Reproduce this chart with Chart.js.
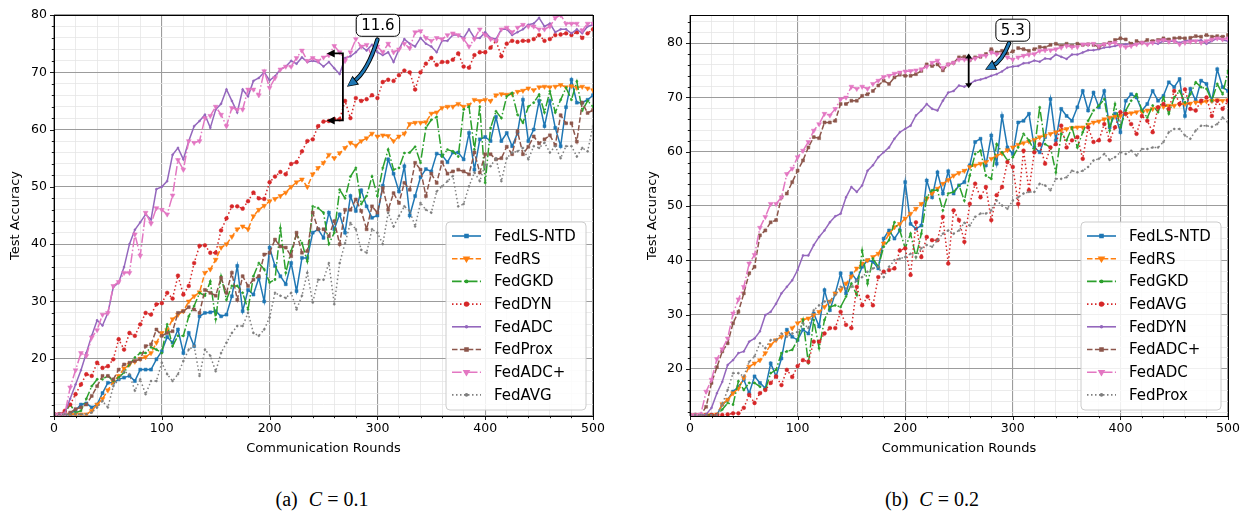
<!DOCTYPE html>
<html>
<head>
<meta charset="utf-8">
<script src="https://cdn.jsdelivr.net/npm/chart.js@4.4.0/dist/chart.umd.min.js"></script>
<style>
  body { margin: 0; background: #fff; width: 1245px; height: 513px; position: relative; overflow: hidden; }
  canvas { position: absolute; top: 0; }
  #chartA { left: 0; }
  #chartB { left: 630px; }
  .cap { position: absolute; top: 488px; font-family: "Liberation Serif", "DejaVu Serif", serif; font-size: 20px;
         color: #000; white-space: nowrap; transform: translateX(-50%); }
  .cap i { font-style: italic; margin-left: 6px; }
</style>
</head>
<body>
<canvas id="chartA" width="620" height="470"></canvas>
<canvas id="chartB" width="615" height="470"></canvas>
<div class="cap" style="left:322px">(a) <i>C</i> = 0.1</div>
<div class="cap" style="left:932px">(b) <i>C</i> = 0.2</div>
<script>
// rounds 0..500, one point every 5 rounds
const rounds = Array.from({ length: 101 }, (_, i) => i * 5);

const namesA = ["FedLS-NTD", "FedRS", "FedGKD", "FedDYN", "FedADC", "FedProx", "FedADC+", "FedAVG"];
const namesB = ["FedLS-NTD", "FedRS", "FedGKD", "FedAVG", "FedDYN", "FedADC+", "FedADC", "FedProx"];

const xTickLabels = [0, 100, 200, 300, 400, 500];
const yTickLabels = [20, 30, 40, 50, 60, 70, 80];

// ---- (a) C = 0.1 ----
const aLsNtd = [10.3,10.3,10.3,10.3,11,12,12.2,11.5,12,14,
  15.8,15.8,16.4,16.7,17,16.1,18.1,18.1,18.1,19.9,
  21.3,23.8,22.8,25.1,21,24.5,22.2,27.4,28,28.1,
  28.3,27.4,27.7,30.9,36.2,28.3,32,31.2,34.1,30,
  39.4,36.2,34.4,33,36.7,31.8,37.6,37.6,42,42.6,
  41.1,45.5,42.6,45.2,42,48.4,45.8,49.4,46.6,44.6,
  45,50.2,54.8,52.3,49.2,53.6,45,48.4,51.7,53.1,
  52.7,55.8,55.5,54.3,56,56,54.8,59.4,53,58.3,
  58.7,58,62.2,58,59.4,57.1,59.4,65.2,58,60,
  65,60.6,65,60.3,57.1,63.9,68.7,64.7,64.7,65.2,
  66];
const aRs = [10.3,10.3,10.3,10.3,10.3,10.3,10.3,10.9,12,13,
  14.5,16,17,18.3,19,19.5,20,20.3,21,22.8,
  24.5,25,26.9,27.7,28.3,30,30.9,31.6,35,35.6,
  37.3,39.4,40,41.3,42.6,43.1,42.6,44.9,46,46.7,
  47.5,47.9,48.4,49,50,50.8,51.3,50,52.2,53.3,
  54.2,55.6,55,55.9,56.8,57.7,57.2,58,58.5,59.3,
  58.8,59,58.9,58,58.8,59.3,61,61.2,61.2,61.3,
  62.8,63,63.8,64,64,64.5,64,64.3,65.2,65,
  65.2,65,66,66.2,66.1,66.2,66.6,66.8,67.2,66.9,
  67.4,67.5,67.4,67.5,67.8,67.4,67.6,67.3,67.5,67.2,
  66.9];
const aGkd = [10.3,10.3,10.5,12,10.6,10.9,13,15.2,16.4,16.4,
  17,16.1,16.7,17.6,19,20.2,21,21,22,21.6,
  21,26,22.2,24,24,27.4,29.2,31.5,31,33.5,
  26.9,34.4,30.3,32.7,32.7,31.5,28.6,34.4,36.7,35.6,
  33.3,33.8,42.8,35,38.8,41.7,40.2,37,46.6,46.3,
  45.5,40,42,49.5,48,51.8,53.3,47,48.4,51.8,
  48.4,53.3,56.5,53,53.3,55.9,56,57,54.2,60.3,
  61.7,62.2,55.3,56.5,56.2,55.3,63.5,64,56.5,64,
  50.7,60.3,63.2,62,65.8,66.4,62.6,61.2,64,64.7,
  66.1,63,66.7,63,65.2,67.3,65.2,68.4,63.3,65,
  64];
const aDyn = [10.3,10.3,10.9,12,13.8,15.5,17.3,17,19.3,18.4,
  18.7,19.9,23.4,21.6,24.5,24,26,28,27.7,29.5,
  29.7,31.5,30.5,34.5,31.2,32.7,36.7,39.7,39.8,38.5,
  38.5,42.4,44.5,46.6,46.6,46.2,47.5,49,48,47.9,
  50.8,51.8,52.6,52.2,54,54.3,56.2,58,58.3,60.6,
  61.4,61.5,61.8,61.8,65,62,65.5,65,65.3,66,
  65.5,68.3,68.7,68.5,69.5,70.3,70,67,70,71.5,
  72.5,71.3,71.8,71.8,72.2,73.3,71,70.8,73,73.5,
  73.5,74.3,75.5,72.8,75,75.5,75.3,75.5,75.5,75.8,
  76.5,75.5,75.8,76.5,76.6,76.8,76.5,77,76,76.8,
  77.5];
const aAdc = [10.3,10.3,10.5,13,15.5,18,21,24,26.7,25.8,
  28,32.5,33.3,36,40,42.5,43.8,45.2,44.3,49.6,
  50,51,55.6,56.8,54.8,58,60.6,61.5,62.6,60.3,
  63.5,64.5,67,65,63,67,65.8,68.5,69,70,
  68.6,69.3,70.5,71,72,71.5,72.6,71.8,72,71.8,
  71,71.8,70.7,69.7,72.5,72.8,73.5,74.5,73.8,74.8,
  73.5,73,73.5,71.8,74,75.8,75,74.5,76,75,
  74.5,73.5,75.5,75.5,76.5,76.5,76,77.5,76,76,
  77,76,75.8,77.5,77.5,76.5,77,77.5,78.3,78.5,
  79.5,78,78.5,77,77.5,77.5,76.8,77.5,76.8,78,
  78.3];
const aProx = [10.3,10.3,10.3,10.6,11.2,11.5,12,13.5,15.2,17,
  17,16.4,18.1,19,19.3,19.6,19.9,22.2,22.5,25.1,
  24,24.5,24.8,28,28.3,29,28.6,28,32,31.5,
  31,34.1,31.5,35,30.3,34.4,32.7,33.8,34.4,38.2,
  38.5,40.8,39.6,39.4,37.9,42,38.5,38.8,45.5,42.6,
  42.6,41.4,44,40,46,46,47.8,45.8,42.6,46.6,
  45.5,49.8,46,48.9,47.2,50.7,49.5,54.2,53,48.4,
  52.3,50.7,54.3,52.3,52.7,53,52.7,52.2,56,52.5,
  55.7,55.7,54.8,55,57,55.7,59.7,55.7,57,58.8,
  57.6,58.3,59,57.3,62.5,61.1,61.1,57.9,64.7,62.9,
  63.4];
const aAdcPlus = [10.3,10.3,10.3,15,18,21,20.5,23.7,25,27.7,
  28,32.7,33.4,35,35,41.7,38,45.5,43.6,46.3,
  46,45.2,48.5,54.7,53,58,57.7,58,62,62.4,
  64,62.6,60.6,63.8,63.5,63.5,67,67,66,70.2,
  67.3,69,70.5,71,71,72.5,73.8,72,72.5,72,
  72.6,73,74.6,73.5,72,73.5,75.8,74.5,74.8,72.8,
  74.5,73.5,75,73.5,74,75,74.2,77,77.2,76,
  75.5,76,75.8,76.5,76.8,76.5,75.8,74.5,75.8,77.5,
  76.5,75.8,75.5,77.5,77.8,77,77.8,78.3,78,78,
  77.5,77.5,78,79.5,80,78.5,78.5,78.5,77.3,78.5,
  78.5];
const aAvg = [10.3,10.3,10.3,10.3,10.3,10.3,10.3,10.6,11.5,12.6,
  11.5,15.2,16.4,17.8,17.3,14.4,16.4,13.8,16.1,16.1,
  19.3,17.3,16.1,17.3,19.6,21.6,22.2,17,21.6,20.5,
  17.8,21,22.8,24.5,25.7,25.7,28,24.5,24,25.1,
  27.2,31.5,31,30.6,31.5,28.6,31,35,29.8,33.8,
  33.8,36.7,29.5,36.7,40.2,43.7,42.6,39,38.5,42.6,
  42,40,45.5,43.1,44.9,46.6,45.8,43.1,47.2,46,
  45.5,49.2,50.1,51,51.9,46.6,47,50.1,52.5,51,
  53.9,53.6,55,51,55,56,56.2,56.8,54.8,57.1,
  56.8,57.7,56,57.1,55,57.1,57.1,55.3,56.8,56.2,
  60.6];

// ---- (b) C = 0.2 ----
const bLsNtd = [11.5,11.5,11.5,11.5,11.5,11.5,13.4,14.3,15.8,16.7,
  18,15.5,18.6,17.4,16.4,21,18.6,21.9,27.2,25.9,
  25.3,27.2,26.5,30.2,27.8,34.5,30.8,33.9,37.6,33.9,
  37.6,36.3,38.8,40,39.7,38.5,44,45.5,44,45.5,
  54.4,46.7,45.8,46.4,54.7,51.6,56.2,52.3,56.4,52.3,
  53.8,54.4,57.5,61.8,62.4,57.5,63,57.8,66.6,60.8,
  59.6,65.4,65.7,67,60.8,59.9,62.7,69.7,62.1,67.9,
  66.6,65.7,68.2,71.2,67.6,70.9,68.2,71.2,64.5,67,
  63.6,69.4,70.6,70,67.6,68.8,71.2,69.4,70.3,72.8,
  71.9,73.4,66.6,71.6,69.4,73.1,72.5,69.4,75.2,71.9,
  71.2];
const bRs = [11.5,11.5,11.5,11.5,11.5,11.6,13.5,14.3,15.5,16.4,
  18.3,20.4,21,21.6,22.9,24.4,25.3,25.9,26.5,27.5,
  28.4,29,29.3,29.9,30.5,31.4,32.4,33.9,34.5,35.7,
  37,38.5,39.4,40,40.6,41.2,43.1,44.9,46.1,46.7,
  47.7,48.6,49.5,50.4,51.3,52.3,53.2,54.1,54.8,55.6,
  56.1,56.5,57.2,57.5,57.8,58.1,58.7,59.3,59.7,60.3,
  60.8,61.3,61.6,61.9,62.2,62.7,63,63.3,63.6,64,
  64.2,64.4,64.5,64.5,65,65.4,65.6,66,66.3,66.5,
  66.6,67,67.1,67.3,67.4,67.6,67.9,68.1,68.3,68.5,
  68.5,68.7,68.8,68.9,69.1,69.1,69.3,69.4,69.5,69.4,
  69.5];
const bGkd = [11.5,11.5,11.5,11.5,11.5,11.5,12.5,13.7,13.4,17.7,
  16.1,17.4,17.4,16.7,16.1,19.2,19.8,22.9,23.2,23.5,
  25.3,29,21,29,23.8,29,31.4,31.7,31.4,33.3,
  35.7,33.6,41.8,35.7,40.3,38.8,42.5,43.7,47,45.5,
  42.2,44.9,40.6,44.9,51.6,52.9,52.9,49.2,52.3,52.6,
  53.8,51,55.6,59.6,60.2,55.6,55,61.4,59.9,58.4,
  59,60.8,63.3,62.1,60.2,68.2,61.4,60.8,56.2,63.3,
  62.1,64.5,60.8,63.6,65.7,67.6,68.5,69.7,63.9,68.8,
  64.5,67.6,69.4,70.6,67.6,66.3,68.5,67.3,70,67,
  70,71.2,69.1,70.6,72.8,71.9,71.6,69.4,72.5,70.6,
  74.9];
const bAvg = [11.5,11.5,11.5,11.5,11.5,11.5,11.5,11.6,11.8,11.8,
  12.8,15.2,13.7,15.5,16.1,17.4,18.6,17,19.8,18.5,
  20.5,21.6,21.3,25,25,26.5,27.5,27.5,30.5,28.1,
  27.5,35.1,31.7,33.3,31.7,36.9,37.9,38.2,38.5,41.8,
  42.2,37.3,47,40.6,44.3,43.7,43.7,48,39.4,49.2,
  47.4,43.4,50.4,54.1,51.6,53.5,47.4,52,53.5,58.1,
  57.2,50.4,60.2,52.9,59.9,61.4,57.8,60.8,61.4,64.8,
  60.8,62.1,62.7,58.7,64.5,61.8,62.1,65.1,62.1,64.5,
  67.3,67,65.1,63.3,66.6,65.7,63.6,68.2,68.8,67.9,
  71.2,68.8,71.5,67.9,67.6,69.4,70,66.6,69.4,67.9,
  69.4];
const bDyn = [11.5,11.5,11.5,11.6,12.8,15.5,17.6,20.7,21.6,22.9,
  23.2,25,25.6,26.9,29.9,30.5,32,33.9,35.1,36.3,
  38.2,40.9,40.9,42.8,44.3,45.5,47,48.1,48.6,51.6,
  53.5,52.6,53.8,56.5,57.5,59,59.9,60.8,62.4,63.6,
  64.2,64.8,66.7,67.6,68.8,67.9,67.6,69.4,70.9,71.2,
  72.2,72,72.5,73.1,73.3,73.6,74,74.3,74.8,75.5,
  75.7,75.8,76.3,76.4,76.8,76.6,77.2,77.1,77.9,77.5,
  77.1,77.9,77.9,78.3,78.7,78.7,78.9,79.2,79.3,79.5,
  79.7,79.8,79.9,79.8,80.1,79.9,80.1,79.9,80.4,80.3,
  80.4,80.1,80.4,80.6,80.4,80.6,79.9,80.4,80.9,80.6,
  80.4];
const bAdcPlus = [11.5,11.5,11.5,13,17.4,20.3,23.2,24.7,28.4,30.5,
  33.9,37.6,38.8,44.6,45.5,47,47.4,51.6,52.3,54.4,
  56.5,58.4,60.8,62.7,62.5,65.4,65.4,65.7,68.8,68.8,
  69.4,69.4,70.3,70.6,71.2,72.2,73.1,72.5,73.7,74.2,
  74,74,74.3,74.9,76.1,75.8,76.1,75,76.1,76.4,
  77.4,77.5,76.9,77.4,77.5,78,78.9,78.3,78.6,78.1,
  78.5,79.1,78.9,78.6,78.9,79.3,79.2,79.7,79.9,79.5,
  79.9,79.5,79.9,79.7,79.8,79.7,79.3,79.8,80.1,80.6,
  80.9,80.7,79.9,80.4,80.1,80.6,80.4,80.6,80.9,80.7,
  80.9,81,80.9,81,81.3,81.2,81.5,81.2,81.3,81.2,
  81.5];
const bAdc = [11.5,11.5,11.6,15.8,18,21.8,23.6,25.6,30.2,32.8,
  35.1,39.4,41,46,48,50.4,50.4,51.6,55.9,56.9,
  59,60.2,61.8,63.9,65.1,67,66.7,67.9,69.7,70,
  72,71.6,72,71.6,72.5,73.1,73.8,74,74.4,74.6,
  74.8,74.9,75,75.2,75.7,76.4,76.8,75.5,76.1,76.4,
  77,77,76.9,77.2,77.7,77.7,78.3,78,77.9,77.4,
  77,77.4,77.7,77.9,78,78.6,78.7,78.7,78.9,79.2,
  79.5,79.3,79.3,79.8,79.8,79.9,79.5,79.8,79.9,80.1,
  79.5,79.3,79.5,79.8,80.1,79.8,80.1,80.4,80.6,80.3,
  80.4,79.8,80.1,80.3,80.4,80.1,80.4,80.7,80.9,80.7,
  80.9];
const bProx = [11.5,11.5,11.5,11.5,11.5,11.5,13.5,16.1,19.2,19.2,
  18.6,21.3,22.3,24.7,23.8,25.3,25.3,26.5,25.9,26.5,
  26.8,28.4,27.5,30.8,31.7,32.4,32.4,33.6,35.1,34.8,
  35.1,36.3,36.9,37.9,38.5,38.8,36.9,38.8,40,40.3,
  40.6,41.2,40.6,42.2,42.8,42.5,43.7,44.9,45.5,44.9,
  45.5,46.9,46.4,48,48.6,48.6,49.2,51,50.1,49.5,
  51,51.6,52.3,52.6,52.6,54.1,53.8,52.9,55,55,
  55.3,56.5,56.2,56.5,57.2,58.4,58.7,59.6,58.5,59,
  59.9,59.6,60.2,59.3,60.5,60.5,60.8,60.8,61.8,63.6,
  64.2,64.2,63,62.4,63.9,64.8,64.8,64.6,65.1,66.3,
  65.4];

// line styles by plotting slot (same for both panels)
const looks = [
  { color: "#1f77b4", dash: [], point: "rect", rot: 0, r: 2.1 },
  { color: "#ff7f0e", dash: [5.5, 2.4], point: "triangle", rot: 180, r: 2.8 },
  { color: "#2ca02c", dash: [9.6, 2.4, 1.5, 2.4], point: "circle", rot: 0, r: 1.1 },
  { color: "#d62728", dash: [1.5, 2.5], point: "circle", rot: 0, r: 1.9 },
  { color: "#9467bd", dash: [], point: "circle", rot: 0, r: 1.0 },
  { color: "#8c564b", dash: [5.5, 2.4], point: "rect", rot: 0, r: 2.1 },
  { color: "#e377c2", dash: [9.6, 2.4, 1.5, 2.4], point: "triangle", rot: 180, r: 2.8 },
  { color: "#7f7f7f", dash: [1.5, 2.5], point: "circle", rot: 0, r: 1.0 }
];

Chart.defaults.font.family = '"DejaVu Sans", sans-serif';
Chart.defaults.color = "#000";

function roundRect(ctx, x, y, w, h, r) {
  ctx.beginPath();
  ctx.moveTo(x + r, y);
  ctx.arcTo(x + w, y, x + w, y + h, r);
  ctx.arcTo(x + w, y + h, x, y + h, r);
  ctx.arcTo(x, y + h, x, y, r);
  ctx.arcTo(x, y, x + w, y, r);
  ctx.closePath();
}

function head(ctx, tx, ty, ang, len, half) {
  // filled arrow head with its tip at (tx, ty), pointing along ang
  const bx = tx - Math.cos(ang) * len, by = ty - Math.sin(ang) * len;
  const nx = -Math.sin(ang) * half, ny = Math.cos(ang) * half;
  ctx.beginPath();
  ctx.moveTo(tx, ty);
  ctx.lineTo(bx + nx, by + ny);
  ctx.lineTo(bx - nx, by - ny);
  ctx.closePath();
  ctx.fill();
}

function drawNote(chart, n) {
  const { ctx, scales: { x, y } } = chart;
  const px = v => x.getPixelForValue(v), py = v => y.getPixelForValue(v);
  ctx.save();
  ctx.strokeStyle = "#000";
  ctx.fillStyle = "#000";
  ctx.lineWidth = 1.8;
  if (n.bar) {
    const bx = px(n.bar.x), tx = px(n.bar.tip), y1 = py(n.bar.top), y2 = py(n.bar.bottom);
    ctx.beginPath();
    ctx.moveTo(tx + 6, y1); ctx.lineTo(bx, y1); ctx.lineTo(bx, y2); ctx.lineTo(tx + 6, y2);
    ctx.stroke();
    head(ctx, tx, y1, Math.PI, 8, 4);
    head(ctx, tx, y2, Math.PI, 8, 4);
  } else {
    const bx = px(n.span.x), y1 = py(n.span.top), y2 = py(n.span.bottom);
    ctx.beginPath();
    ctx.moveTo(bx, y1 + 4); ctx.lineTo(bx, y2 - 4);
    ctx.stroke();
    head(ctx, bx, y1, -Math.PI / 2, 5, 3.5);
    head(ctx, bx, y2, Math.PI / 2, 5, 3.5);
  }
  // curved blue arrow from the label to the bracket
  const sx = px(n.curve[0][0]), sy = py(n.curve[0][1]);
  const cx = px(n.curve[1][0]), cy = py(n.curve[1][1]);
  const ex = px(n.curve[2][0]), ey = py(n.curve[2][1]);
  const ang = Math.atan2(ey - cy, ex - cx);
  const hl = 9;
  const bxe = ex - Math.cos(ang) * hl * 0.8, bye = ey - Math.sin(ang) * hl * 0.8;
  ctx.lineCap = "round";
  ctx.beginPath(); ctx.moveTo(sx, sy); ctx.quadraticCurveTo(cx, cy, bxe, bye);
  ctx.strokeStyle = "#000"; ctx.lineWidth = 4.5; ctx.stroke();
  ctx.strokeStyle = "#1f77b4"; ctx.lineWidth = 2.6; ctx.stroke();
  ctx.fillStyle = "#000";
  head(ctx, ex + Math.cos(ang) * 1, ey + Math.sin(ang) * 1, ang, hl + 2, 5.5);
  ctx.fillStyle = "#1f77b4";
  head(ctx, ex, ey, ang, hl, 4.2);
  // label box
  ctx.font = '15px "DejaVu Sans", sans-serif';
  const tw = ctx.measureText(n.text).width;
  const lx = px(n.label[0]), ly = py(n.label[1]);
  roundRect(ctx, lx - tw / 2 - 5, ly - 11, tw + 10, 22, 5);
  ctx.fillStyle = "#fff"; ctx.fill();
  ctx.strokeStyle = "#000"; ctx.lineWidth = 1; ctx.stroke();
  ctx.fillStyle = "#000"; ctx.textAlign = "center"; ctx.textBaseline = "middle";
  ctx.fillText(n.text, lx, ly + 1);
  ctx.restore();
}

function drawLegend(chart, names) {
  const { ctx, chartArea: a } = chart;
  const w = 140, h = 188;
  const x0 = a.right - 7 - w, y0 = a.bottom - 6 - h;
  ctx.save();
  roundRect(ctx, x0, y0, w, h, 4);
  ctx.fillStyle = "rgba(255,255,255,0.85)"; ctx.fill();
  ctx.strokeStyle = "#cccccc"; ctx.lineWidth = 1; ctx.stroke();
  ctx.font = '15px "DejaVu Sans", sans-serif';
  ctx.textBaseline = "middle";
  names.forEach((name, i) => {
    const lk = looks[i];
    const cy = y0 + 14 + i * 22.7;
    ctx.strokeStyle = lk.color; ctx.lineWidth = 1.6;
    ctx.setLineDash(lk.dash);
    ctx.beginPath(); ctx.moveTo(x0 + 6, cy); ctx.lineTo(x0 + 35, cy); ctx.stroke();
    ctx.setLineDash([]);
    ctx.fillStyle = lk.color;
    Chart.helpers.drawPoint(ctx, { pointStyle: lk.point, rotation: lk.rot, radius: lk.r, borderWidth: 0.5 }, x0 + 20.5, cy);
    ctx.fillStyle = "#000";
    ctx.fillText(name, x0 + 48, cy + 1);
  });
  ctx.restore();
}

const overlay = {
  id: "overlay",
  afterDatasetsDraw(chart, args, opts) {
    const { ctx, chartArea: a, scales: { x, y } } = chart;
    ctx.save();
    // tick marks outside the frame
    ctx.strokeStyle = "#000"; ctx.lineWidth = 0.9;
    y.ticks.forEach(t => {
      const p = Math.round(y.getPixelForValue(t.value)) + 0.5;
      const len = t.value % 10 === 0 ? 4 : 2.2;
      ctx.beginPath(); ctx.moveTo(a.left - len, p); ctx.lineTo(a.left, p); ctx.stroke();
    });
    x.ticks.forEach(t => {
      const p = Math.round(x.getPixelForValue(t.value)) + 0.5;
      const len = t.value % 100 === 0 ? 4 : 2.2;
      ctx.beginPath(); ctx.moveTo(p, a.bottom); ctx.lineTo(p, a.bottom + len); ctx.stroke();
    });
    ctx.lineWidth = 1;
    ctx.strokeRect(Math.round(a.left) + 0.5, Math.round(a.top) + 0.5,
      Math.round(a.right - a.left), Math.round(a.bottom - a.top));
    ctx.restore();
    drawNote(chart, opts.note);
    drawLegend(chart, opts.names);
  }
};

function makeChart(id, names, series, cfg) {
  const datasets = series.map((vals, i) => ({
    label: names[i],
    data: vals.map((v, k) => ({ x: rounds[k], y: v })),
    borderColor: looks[i].color,
    backgroundColor: looks[i].color,
    borderWidth: 1.5,
    borderDash: looks[i].dash,
    pointStyle: looks[i].point,
    pointRotation: looks[i].rot,
    pointRadius: looks[i].r,
    pointBorderWidth: 0.5,
    pointBackgroundColor: looks[i].color,
    pointBorderColor: looks[i].color,
    tension: 0,
    order: series.length - 1 - i
  }));
  return new Chart(document.getElementById(id), {
    type: "line",
    data: { datasets },
    plugins: [overlay],
    options: {
      responsive: false,
      animation: false,
      events: [],
      layout: { padding: { left: 0, top: 15, right: cfg.padRight, bottom: 14 } },
      plugins: {
        legend: { display: false },
        tooltip: { enabled: false },
        overlay: { note: cfg.note, names }
      },
      scales: {
        x: {
          type: "linear", min: 0, max: 500,
          afterBuildTicks: s => { const t = []; for (let v = 0; v <= 500; v += 20) t.push({ value: v }); s.ticks = t; },
          afterFit: s => { s.height = 40; },
          ticks: {
            autoSkip: false, maxRotation: 0, padding: 5,
            font: { size: 12.5 },
            callback: v => xTickLabels.includes(v) ? String(v) : ""
          },
          grid: {
            drawTicks: false,
            color: c => (c.tick && c.tick.value % 100 === 0) ? "#9c9c9c" : "#e6e6e6",
            lineWidth: c => (c.tick && c.tick.value % 100 === 0) ? 1.1 : 0.8
          },
          border: { display: false },
          title: { display: true, text: "Communication Rounds", font: { size: 13 }, padding: { top: 0, bottom: 0 } }
        },
        y: {
          type: "linear", min: cfg.yMin, max: cfg.yMax,
          afterBuildTicks: s => { const t = []; for (let v = cfg.yFirst; v <= cfg.yMax; v += 2) t.push({ value: v }); s.ticks = t; },
          afterFit: s => { s.width = cfg.yWidth; },
          ticks: {
            autoSkip: false, padding: 7,
            font: { size: 12.5 },
            callback: v => yTickLabels.includes(v) ? String(v) : ""
          },
          grid: {
            drawTicks: false,
            color: c => (c.tick && c.tick.value % 10 === 0) ? "#9c9c9c" : "#e6e6e6",
            lineWidth: c => (c.tick && c.tick.value % 10 === 0) ? 1.1 : 0.8
          },
          border: { display: false },
          title: { display: true, text: "Test Accuracy", font: { size: 13 }, padding: { top: cfg.yTitlePad, bottom: 0 } }
        }
      }
    }
  });
}

makeChart("chartA", namesA, [aLsNtd, aRs, aGkd, aDyn, aAdc, aProx, aAdcPlus, aAvg], {
  yMin: 10, yMax: 80, yFirst: 10, yWidth: 54, padRight: 27, yTitlePad: 7.5,
  note: {
    text: "11.6", label: [300.5, 78.2],
    bar: { x: 268, tip: 253, top: 73.3, bottom: 61.6 },
    curve: [[300, 75.7], [291, 70.2], [272.5, 67.6]]
  }
});

makeChart("chartB", namesB, [bLsNtd, bRs, bGkd, bAvg, bDyn, bAdcPlus, bAdc, bProx], {
  yMin: 11.3, yMax: 85.2, yFirst: 12, yWidth: 60, padRight: 17, yTitlePad: 14.5,
  note: {
    text: "5.3", label: [300, 82.4],
    span: { x: 259, top: 78.1, bottom: 71.7 },
    curve: [[296.5, 80.0], [290, 76.7], [275, 75.2]]
  }
});
</script>
</body>
</html>
